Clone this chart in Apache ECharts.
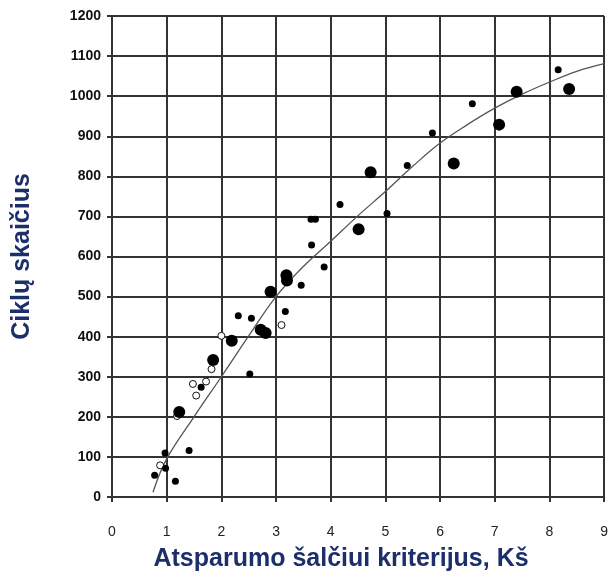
<!DOCTYPE html>
<html>
<head>
<meta charset="utf-8">
<script src="https://cdn.jsdelivr.net/npm/echarts@6/dist/echarts.min.js"></script>
<style>
html,body{margin:0;padding:0;background:#fff;}
#chart{width:611px;height:577px;}
</style>
</head>
<body>
<div id="chart"></div>
<script>
// x ticks 0..9, y ticks 0..1200
const xTicks = [0,1,2,3,4,5,6,7,8,9];
const yTicks = [0,100,200,300,400,500,600,700,800,900,1000,1100,1200];

// small filled dots [Kš, cycles]
const smallFilled = [
  [0.78,54],[0.97,110],[0.98,72],[1.16,39],[1.41,116],[1.63,274],
  [2.31,452],[2.52,307],[2.55,446],[3.17,463],[3.46,528],[3.64,693],[3.72,693],
  [3.65,629],[3.88,574],[4.17,730],[5.03,707],[5.40,827],[5.86,908],[6.59,981],[8.16,1066]
];
// large filled dots
const bigFilled = [
  [1.23,212],[1.85,342],[2.19,390],[2.72,417],[2.81,409],[2.90,512],[3.19,553],[3.20,540],
  [4.51,668],[4.73,810],[6.25,832],[7.08,929],[7.40,1011],[8.36,1018]
];
// open circles
const openCircles = [
  [0.88,79],[1.19,202],[1.48,282],[1.54,253],[1.72,288],[1.82,319],[2.00,402],[3.10,429]
];
// fitted curve
const curve = [
  [0.75,12],[1,95],[1.5,200],[2,300],[2.5,402],[3,500],[3.5,575],[4,638],[4.5,702],
  [5,762],[5.5,825],[6,883],[6.5,929],[7,970],[7.5,1005],[8,1035],[8.5,1062],[9,1081]
];

const chart = echarts.init(document.getElementById('chart'));
const gridColor = '#333333';
chart.setOption({
  backgroundColor: '#ffffff',
  animation: false,
  grid: {left: 112, right: 3, top: 16, bottom: 79},
  xAxis: {
    type: 'value', min: xTicks[0], max: xTicks[xTicks.length-1], interval: 1,
    name: 'Atsparumo šalčiui kriterijus, Kš', nameLocation: 'middle', nameGap: 50,
    nameTextStyle: {fontSize: 25, fontWeight: 'bold', color: '#1c2f6b', fontFamily: 'Liberation Sans, Arial, sans-serif', padding: [0, 34, 0, 0]},
    axisLine: {show: true, lineStyle: {color: gridColor, width: 2}},
    axisTick: {show: true, length: 5, lineStyle: {color: gridColor, width: 2}},
    axisLabel: {margin: 28, fontSize: 14, color: '#222', fontFamily: 'Liberation Sans, Arial, sans-serif'},
    splitLine: {show: true, lineStyle: {color: gridColor, width: 2}}
  },
  yAxis: {
    type: 'value', min: yTicks[0], max: yTicks[yTicks.length-1], interval: 100,
    name: 'Ciklų skaičius', nameLocation: 'middle', nameGap: 77, nameRotate: 90,
    nameTextStyle: {fontSize: 25, fontWeight: 'bold', color: '#1c2f6b', fontFamily: 'Liberation Sans, Arial, sans-serif'},
    axisLine: {show: true, lineStyle: {color: gridColor, width: 2}},
    axisTick: {show: true, length: 5, lineStyle: {color: gridColor, width: 2}},
    axisLabel: {margin: 11, fontSize: 14, fontWeight: 'bold', color: '#111',
      fontFamily: 'Liberation Sans Narrow, Liberation Sans, Arial, sans-serif',
      formatter: function (v) { return String(v); }},
    splitLine: {show: true, lineStyle: {color: gridColor, width: 2}}
  },
  series: [
    {type: 'line', data: curve, smooth: 0.4, symbol: 'none', lineStyle: {color: '#555', width: 1.3}, z: 3},
    {type: 'scatter', data: openCircles, symbol: 'circle', symbolSize: 7,
     itemStyle: {color: '#fff', borderColor: '#111', borderWidth: 1, opacity: 1}, z: 4},
    {type: 'scatter', data: smallFilled, symbol: 'circle', symbolSize: 7,
     itemStyle: {color: '#000', opacity: 1}, z: 5},
    {type: 'scatter', data: bigFilled, symbol: 'circle', symbolSize: 12,
     itemStyle: {color: '#000', opacity: 1}, z: 5}
  ]
});
</script>
</body>
</html>
